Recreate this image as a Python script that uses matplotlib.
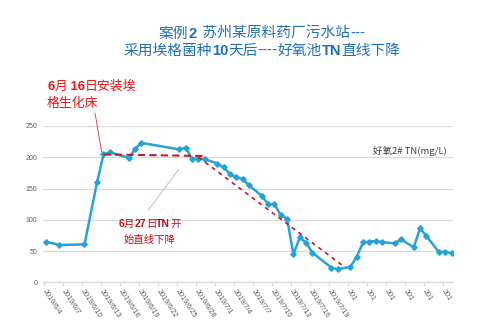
import pandas as pd
import matplotlib
matplotlib.use("Agg")
import matplotlib.pyplot as plt
import matplotlib.dates as mdates

# 好氧2# TN 数据
datas = [
    "2019-06-04", "2019-06-06", "2019-06-10", "2019-06-12", "2019-06-13",
    "2019-06-14", "2019-06-17", "2019-06-18", "2019-06-19", "2019-06-25",
    "2019-06-26", "2019-06-27", "2019-06-28", "2019-06-29", "2019-07-01",
    "2019-07-02", "2019-07-03", "2019-07-04", "2019-07-05", "2019-07-06",
    "2019-07-08", "2019-07-09", "2019-07-10", "2019-07-11", "2019-07-12",
    "2019-07-13", "2019-07-14", "2019-07-15", "2019-07-16", "2019-07-19",
    "2019-07-20", "2019-07-22", "2019-07-23", "2019-07-24", "2019-07-25",
    "2019-07-26", "2019-07-27", "2019-07-29", "2019-07-30", "2019-08-01",
    "2019-08-02", "2019-08-03", "2019-08-05", "2019-08-06", "2019-08-07",
]
tn = [
    64.9, 59.6, 60.7, 160.7, 204.5,
    208.0, 199.0, 213.5, 223.0, 212.5,
    215.6, 197.0, 198.0, 197.0, 190.0,
    183.7, 173.0, 167.7, 165.0, 155.0,
    138.3, 125.0, 124.6, 107.5, 101.6,
    44.7, 71.9, 63.3, 47.3, 23.3,
    20.8, 25.0, 40.9, 63.9, 65.0,
    66.0, 64.0, 62.3, 68.7, 56.0,
    86.3, 74.0, 48.0, 49.0, 46.3,
]

# 趋势虚线
plano_datas = ["2019-06-13", "2019-06-29"]
plano_vals = [204.5, 202.0]
queda_datas = ["2019-06-28", "2019-07-21"]
queda_vals = [200.0, 25.0]

# 刻度
tick_datas = pd.date_range("2019-06-04", "2019-08-06", freq="3D")
tick_labels = [
    "2019/6/4", "2019/6/7", "2019/6/10", "2019/6/13", "2019/6/16",
    "2019/6/19", "2019/6/22", "2019/6/25", "2019/6/28", "2019/7/1",
    "2019/7/4", "2019/7/7", "2019/7/10", "2019/7/13", "2019/7/16",
    "2019/7/19", "201", "201", "201", "201", "201", "201",
]
y_ticks = [0, 50, 100, 150, 200, 250]

CJK = ["Noto Sans CJK SC", "DejaVu Sans"]
LAT = ["Liberation Sans", "DejaVu Sans"]
W, H = 487, 328


def num(ds, offset=0.4):
    return mdates.date2num(pd.to_datetime(ds)) + offset


def draw_runs(fig, runs, x_px, y_px, size, color, align="center", cjk_weight="normal"):
    renderer = fig.canvas.get_renderer()
    texts = []
    for s, bold in runs:
        if bold:
            t = fig.text(0, 1 - y_px / H, s, family=LAT, weight="bold",
                         fontsize=size, color=color, va="baseline", ha="left")
        else:
            t = fig.text(0, 1 - y_px / H, s, family=CJK, weight=cjk_weight,
                         fontsize=size, color=color, va="baseline", ha="left")
        texts.append(t)
    widths = [t.get_window_extent(renderer).width for t in texts]
    x0 = x_px - sum(widths) / 2 if align == "center" else x_px
    for t, w in zip(texts, widths):
        t.set_x(x0 / W)
        x0 += w


def main():
    fig = plt.figure(figsize=(4.87, 3.28), dpi=100)
    ax = fig.add_axes([42.7 / W, 1 - 282.3 / H, (453 - 42.7) / W, (282.3 - 126) / H])

    x0 = mdates.date2num(pd.Timestamp("2019-06-04"))
    ax.set_xlim(x0 - 0.2, x0 + 64.6)
    ax.set_ylim(0, 250)

    ax.grid(axis="y", color="#d9d9d9", lw=0.9)
    ax.set_axisbelow(True)
    for s in ["top", "right", "left"]:
        ax.spines[s].set_visible(False)
    ax.spines["bottom"].set_color("#d9d9d9")
    ax.spines["bottom"].set_linewidth(0.9)

    ax.set_yticks(y_ticks)
    ax.set_yticklabels([str(v) for v in y_ticks], family=LAT, fontsize=5, color="#595959")
    ax.tick_params(axis="y", length=0, pad=4)

    ax.set_xticks(mdates.date2num(tick_datas))
    ax.set_xticklabels(tick_labels, family=LAT, fontsize=5.2, color="#595959",
                       rotation=-57, ha="left", va="center", rotation_mode="anchor")
    ax.tick_params(axis="x", length=3, color="#d9d9d9", pad=3)

    ax.plot(num(datas), tn, color="#27a2d6", lw=1.8, marker="D", ms=2.8,
            mec="#27a2d6", mfc="#27a2d6", zorder=3)

    ax.plot(num(plano_datas), plano_vals, color="#c01d2a", lw=1.5,
            dashes=(3.5, 2), zorder=4)
    ax.plot(num(queda_datas), queda_vals, color="#c01d2a", lw=1.2,
            dashes=(2.5, 2.5), zorder=4)

    # 连线
    ax.annotate("", xy=(num("2019-06-13", 0.1), 209), xycoords="data",
                xytext=(95 / W, 1 - 113 / H), textcoords="figure fraction",
                arrowprops=dict(arrowstyle="-", color="#e03030", lw=0.6,
                                shrinkA=0, shrinkB=0))
    ax.annotate("", xy=(num("2019-06-25", 0.3), 181), xycoords="data",
                xytext=(148 / W, 1 - 210.5 / H), textcoords="figure fraction",
                arrowprops=dict(arrowstyle="-", color="#9bbcc4", lw=0.6,
                                shrinkA=0, shrinkB=0))

    fig.text(447 / W, 1 - 150.5 / H, "好氧2# TN(mg/L)", family=CJK, fontsize=6.8,
             color="#404040", ha="right", va="center")

    azul = "#1f6fbf"
    draw_runs(fig, [("案例", False), ("2", True), ("  苏州某原料药厂污水站", False),
                    ("---", False)], 262, 37.5, 10.6, azul, cjk_weight="medium")
    draw_runs(fig, [("采用埃格菌种", False), ("10", True), ("天后", False),
                    ("----", False), ("好氧池", False), ("TN", True),
                    ("直线下降", False)], 262, 55, 10.6, azul, cjk_weight="medium")

    vermelho = "#f01010"
    draw_runs(fig, [("6", True), ("月", False), (" 16", True), ("日安装埃", False)],
              47, 90, 9.3, vermelho, align="left")
    draw_runs(fig, [("格生化床", False)], 47, 106.5, 9.3, vermelho, align="left")

    escuro = "#c0101a"
    draw_runs(fig, [("6", True), ("月", False), ("27", True), ("日", False),
                    ("TN", True), ("开", False)], 149.5, 227, 7.5, escuro)
    draw_runs(fig, [("始直线下降", False)], 149.5, 243.5, 7.5, escuro)

    fig.savefig("out.png", dpi=100)
    plt.close(fig)


if __name__ == "__main__":
    main()
